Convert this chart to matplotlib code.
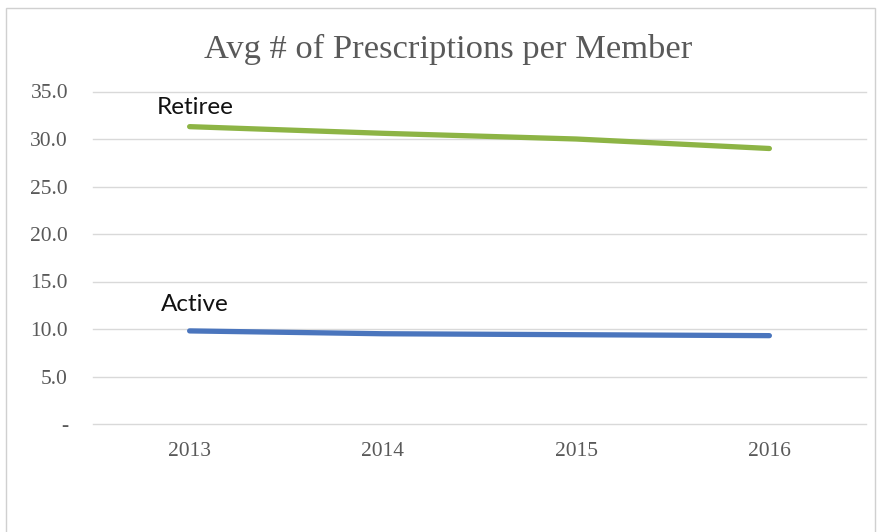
import matplotlib.pyplot as plt
from matplotlib.patches import Rectangle

years = ['2013', '2014', '2015', '2016']
retiree = [31.3, 30.6, 30.0, 29.0]
active = [9.8, 9.5, 9.4, 9.3]
y_ticks = [0, 5, 10, 15, 20, 25, 30, 35]
y_labels = ['-', '5.0', '10.0', '15.0', '20.0', '25.0', '30.0', '35.0']

fig = plt.figure(figsize=(8.81, 5.32), dpi=100)
# chart frame
fig.patches.append(Rectangle((6 / 881, -0.05), 869 / 881, 1.05 - 8 / 532,
                             transform=fig.transFigure, fill=False,
                             edgecolor='#D0D0D0', linewidth=1))

ax = fig.add_axes([93 / 881, 1 - 424 / 532, 773 / 881, 332.5 / 532])
x = range(len(years))
ax.plot(x, retiree, color='#8DB445', linewidth=3.8, solid_capstyle='round')
ax.plot(x, active, color='#4A75BD', linewidth=3.8, solid_capstyle='round')

ax.annotate('Retiree', (0, retiree[0]), xytext=(4, 9), textcoords='offset points',
            ha='center', va='baseline', fontsize=17.5, family='Lato', color='#111111')
ax.annotate('Active', (0, active[0]), xytext=(4, 14), textcoords='offset points',
            ha='center', va='baseline', fontsize=17.5, family='Lato', color='#111111')

ax.set_xlim(-0.5, len(years) - 0.5)
ax.set_ylim(0, 35)
ax.set_xticks(list(x))
ax.set_xticklabels(years)
ax.set_yticks(y_ticks)
ax.set_yticklabels(y_labels)
for lbl in ax.get_xticklabels() + ax.get_yticklabels():
    lbl.set_family('Liberation Serif')
    lbl.set_fontsize(15.5)
    lbl.set_color('#595959')
ax.tick_params(axis='both', length=0)
ax.tick_params(axis='y', pad=18)
ax.tick_params(axis='x', pad=13)
ax.grid(axis='y', color='#D9D9D9', linewidth=1)
for gl in ax.get_ygridlines():
    gl.set_clip_on(False)
ax.set_axisbelow(True)
for s in ax.spines.values():
    s.set_visible(False)

fig.text(448 / 881, 1 - 58 / 532, 'Avg # of Prescriptions per Member', ha='center', va='baseline',
         fontsize=24.8, family='Liberation Serif', color='#595959')

fig.savefig('out.png', dpi=100)
